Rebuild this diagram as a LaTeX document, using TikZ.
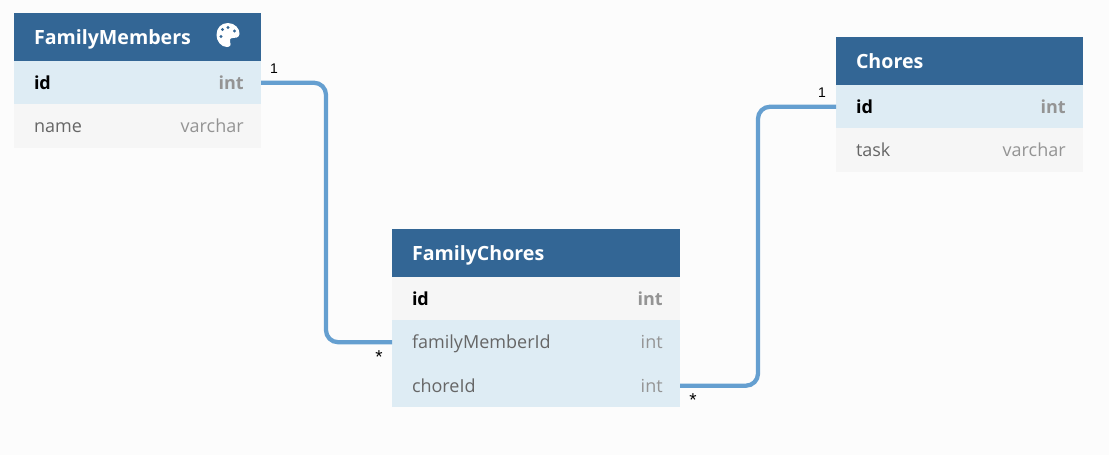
\documentclass[tikz,border=0pt]{standalone}
\usepackage{xcolor}
\usepackage{fontspec}
\setmainfont{Open Sans}
\newfontfamily\cardfont{Liberation Sans}
\usetikzlibrary{positioning}
\definecolor{pagebg}{HTML}{FCFCFC}
\definecolor{headblue}{HTML}{336695}
\definecolor{rowblue}{HTML}{DEECF4}
\definecolor{rowgrey}{HTML}{F6F6F6}
\definecolor{linkblue}{HTML}{659FD0}
\definecolor{namegrey}{HTML}{666666}
\definecolor{typegrey}{HTML}{949494}

\begin{document}
\begin{tikzpicture}[x=0.75pt,y=-0.75pt,node distance=0pt]
 	\tikzstyle{every node}=[inner sep=0pt, outer sep=0pt]
 	\tikzstyle{narrow}=[minimum width=185.25pt]
 	\tikzstyle{wide}=[minimum width=216pt]
 	\tikzstyle{head}=[fill=headblue, minimum height=36pt, anchor=north west]
 	\tikzstyle{blue row}=[fill=rowblue, minimum height=32.6pt]
 	\tikzstyle{grey row}=[fill=rowgrey, minimum height=32.6pt]
 	\tikzstyle{title}=[text=white, font=\fontsize{14.7}{16}\selectfont\bfseries, text height=14pt, text depth=3pt]
 	\tikzstyle{field}=[text=namegrey, font=\fontsize{13.5}{15}\selectfont, text height=13pt, text depth=3pt]
 	\tikzstyle{key}=[field, text=black, font=\fontsize{13.5}{15}\selectfont\bfseries]
 	\tikzstyle{kind}=[field, text=typegrey]
 	\tikzstyle{keykind}=[kind, font=\fontsize{13.5}{15}\selectfont\bfseries]
 	\tikzstyle{card}=[text=black, font=\cardfont\fontsize{10.5}{12}\selectfont]
 	\tikzstyle{star}=[text=black, font=\cardfont\fontsize{14}{14}\selectfont]
 	\tikzstyle{link}=[draw=linkblue, line width=3.2pt, rounded corners=9pt]

 	\fill[pagebg] (0,0) rectangle (1109,455);
 	\useasboundingbox (0,0) rectangle (1109,455);

 	% FamilyMembers
 	\node[head, narrow] 		(membersHead) at (14,13)		{};
 	\node[blue row, narrow] 	(membersId) [below=of membersHead]	{};
 	\node[grey row, narrow] 	(membersName) [below=of membersId]	{};
 	\node[title] 	(membersTitle) [right=15pt of membersHead.west]	{FamilyMembers};
 	\node[key] 	(membersIdName) [right=15pt of membersId.west]	{id};
 	\node[keykind] 	(membersIdKind) [left=13pt of membersId.east]	{int};
 	\node[field] 	(membersNameName) [right=15pt of membersName.west]	{name};
 	\node[kind] 	(membersNameKind) [left=13pt of membersName.east]	{varchar};

 	% palette icon
 	\fill[white] (228,23) .. controls (235,23) and (240,29) .. (239.5,34)
 		.. controls (239,38) and (235,38) .. (233,38)
 		.. controls (230,38) and (229,40) .. (230,42)
 		.. controls (231.5,45) and (230,47) .. (227,47)
 		.. controls (221,47) and (216.5,41) .. (216.5,35)
 		.. controls (216.5,28) and (221,23) .. (228,23) -- cycle;
 	\fill[headblue] (228,27.5) circle (1.7) (234.5,31) circle (1.7) (222.5,29.5) circle (1.7) (221,36.5) circle (1.7);

 	% FamilyChores
 	\node[head, wide] 	(choresLinkHead) at (392,229)		{};
 	\node[grey row, wide] 	(linkId) [below=of choresLinkHead]	{};
 	\node[blue row, wide] 	(linkMember) [below=of linkId]		{};
 	\node[blue row, wide] 	(linkChore) [below=of linkMember]	{};
 	\node[title] 	(linkTitle) [right=15pt of choresLinkHead.west]	{FamilyChores};
 	\node[key] 	(linkIdName) [right=15pt of linkId.west]	{id};
 	\node[keykind] 	(linkIdKind) [left=13pt of linkId.east]		{int};
 	\node[field] 	(linkMemberName) [right=15pt of linkMember.west]	{familyMemberId};
 	\node[kind] 	(linkMemberKind) [left=13pt of linkMember.east]	{int};
 	\node[field] 	(linkChoreName) [right=15pt of linkChore.west]	{choreId};
 	\node[kind] 	(linkChoreKind) [left=13pt of linkChore.east]	{int};

 	% Chores
 	\node[head, narrow] 	(choresHead) at (836,37)		{};
 	\node[blue row, narrow] (choresId) [below=of choresHead]	{};
 	\node[grey row, narrow] (choresTask) [below=of choresId]	{};
 	\node[title] 	(choresTitle) [right=15pt of choresHead.west]	{Chores};
 	\node[key] 	(choresIdName) [right=15pt of choresId.west]	{id};
 	\node[keykind] 	(choresIdKind) [left=13pt of choresId.east]	{int};
 	\node[field] 	(choresTaskName) [right=15pt of choresTask.west]	{task};
 	\node[kind] 	(choresTaskKind) [left=13pt of choresTask.east]	{varchar};

 	\coordinate (turnA) at (326,200);
 	\coordinate (turnB) at (758,250);
 	\path[link]
 	(membersId.east) -| (turnA) |- (linkMember.west)
 	(linkChore.east) -| (turnB) |- (choresId.west);

 	\node[card] (cardA) at (274,69) {1};
 	\node[star] (cardB) at (379,357) {*};
 	\node[star] (cardC) at (693,400) {*};
 	\node[card] (cardD) at (822,93) {1};
\end{tikzpicture}
\end{document}
